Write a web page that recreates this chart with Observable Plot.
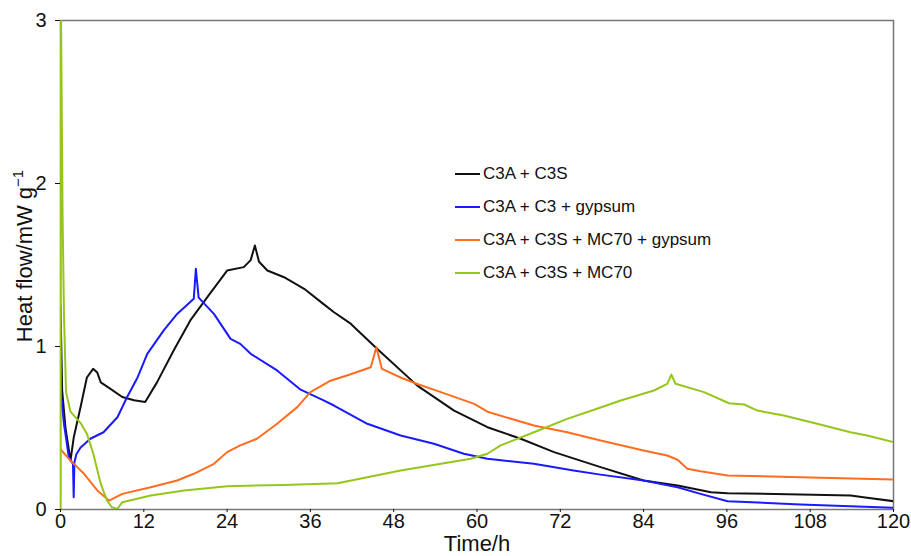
<!DOCTYPE html>
<html>
<head>
<meta charset="utf-8">
<script src="https://cdn.jsdelivr.net/npm/d3@7"></script>
<script src="https://cdn.jsdelivr.net/npm/@observablehq/plot@0.6"></script>
<style>
  html, body { margin: 0; padding: 0; background: #fff; }
  #wrap { position: relative; width: 911px; height: 556px; font-family: "Liberation Sans", Arial, sans-serif; }
  #legend { position: absolute; left: 455px; top: 158px; font-size: 17px; color: #111; }
  .row { display: flex; align-items: center; height: 32.8px; }
  .swatch { width: 25px; height: 0; border-top: 2.4px solid; margin-right: 3px; }
</style>
</head>
<body>
<div id="wrap"></div>
<script>
// ---- data ----
const seriesNames = ["C3A + C3S", "C3A + C3 + gypsum", "C3A + C3S + MC70 + gypsum", "C3A + C3S + MC70"];
const seriesColors = ["#111111", "#1a1aff", "#ff6e1f", "#96c61c"];
const xTicks = [0, 12, 24, 36, 48, 60, 72, 84, 96, 108, 120];
const yTicks = [0, 1, 2, 3];

const timeA = [0, 0.24, 0.72, 1.44, 1.9, 2.9, 3.8, 4.7, 5.3, 5.8, 7.2, 8.9, 10.6, 12.2, 13.9, 16.3, 18.7, 21.1, 24.0, 26.4, 27.4, 28.0, 28.6, 29.8, 32.2, 35.1, 37.9, 39.4, 41.8, 45.6, 51.4, 56.7, 61.5, 66.3, 71.1, 77.8, 84.0, 88.9, 93.7, 96.1, 106.6, 113.8, 116.2, 120];
const flowA = [1.25, 0.73, 0.5, 0.3, 0.44, 0.63, 0.81, 0.863, 0.84, 0.78, 0.74, 0.69, 0.67, 0.66, 0.78, 0.975, 1.16, 1.30, 1.466, 1.487, 1.53, 1.62, 1.52, 1.466, 1.425, 1.354, 1.26, 1.21, 1.14, 0.986, 0.76, 0.607, 0.505, 0.434, 0.352, 0.26, 0.178, 0.147, 0.106, 0.1, 0.092, 0.086, 0.072, 0.051];

const timeB = [0, 0.1, 0.5, 1.2, 1.8, 1.9, 2.0, 2.3, 2.9, 4.3, 6.2, 8.2, 9.6, 11.1, 12.5, 14.9, 16.8, 19.2, 19.5, 19.9, 22.1, 24.5, 25.9, 27.4, 31.2, 34.6, 37.9, 39.4, 44.2, 49.0, 53.8, 58.1, 61.5, 68.2, 73.9, 77.8, 84.0, 88.9, 92.2, 96.1, 106.6, 120];
const flowB = [1.0, 0.69, 0.526, 0.32, 0.28, 0.075, 0.29, 0.34, 0.38, 0.434, 0.474, 0.566, 0.69, 0.81, 0.955, 1.10, 1.20, 1.293, 1.477, 1.30, 1.20, 1.047, 1.016, 0.955, 0.853, 0.735, 0.67, 0.638, 0.526, 0.454, 0.403, 0.342, 0.311, 0.28, 0.239, 0.214, 0.178, 0.137, 0.096, 0.051, 0.031, 0.01];

const timeC = [0, 1.44, 3.4, 5.3, 7.0, 8.9, 13.0, 16.8, 19.2, 22.1, 24.0, 25.9, 28.3, 31.2, 34.1, 36.0, 38.9, 41.8, 44.7, 45.5, 46.3, 49.0, 51.4, 54.8, 59.6, 61.5, 68.2, 73.0, 77.8, 84.0, 87.4, 88.9, 90.3, 92.2, 96.1, 106.6, 120];
const flowC = [0.37, 0.30, 0.219, 0.117, 0.055, 0.096, 0.137, 0.178, 0.219, 0.28, 0.352, 0.393, 0.434, 0.526, 0.628, 0.72, 0.79, 0.83, 0.873, 0.995, 0.863, 0.81, 0.77, 0.72, 0.648, 0.6, 0.515, 0.474, 0.423, 0.362, 0.331, 0.305, 0.25, 0.235, 0.209, 0.198, 0.184];

const timeD = [0, 0.08, 0.3, 0.5, 0.8, 1.44, 2.9, 3.8, 4.3, 4.8, 5.8, 6.7, 7.4, 8.2, 8.9, 13.0, 17.8, 24.0, 32.2, 39.9, 44.2, 49.0, 54.8, 59.1, 61.5, 63.4, 68.2, 73.0, 77.8, 80.7, 85.5, 87.4, 88.0, 88.6, 92.7, 96.3, 98.5, 100.4, 104.2, 109.0, 113.8, 116.2, 120];
const flowD = [0, 3, 1.8, 1.2, 0.72, 0.6, 0.53, 0.464, 0.40, 0.33, 0.157, 0.055, 0.014, 0.004, 0.045, 0.086, 0.117, 0.143, 0.151, 0.161, 0.198, 0.239, 0.28, 0.311, 0.342, 0.393, 0.474, 0.556, 0.626, 0.669, 0.73, 0.771, 0.828, 0.771, 0.72, 0.652, 0.644, 0.607, 0.577, 0.526, 0.474, 0.454, 0.413];

const allTimes = [timeA, timeB, timeC, timeD];
const allFlows = [flowA, flowB, flowC, flowD];

// ---- build table ----
const rows = [];
allTimes.forEach((ts, i) => ts.forEach((t, j) => rows.push({series: seriesNames[i], t, v: allFlows[i][j]})));

const font = '"Liberation Sans", Arial, sans-serif';
const chart = Plot.plot({
  width: 911,
  height: 556,
  marginLeft: 60,
  marginRight: 18,
  marginTop: 20,
  marginBottom: 47,
  style: {fontFamily: font, fontSize: "19px", color: "#111", background: "#fff"},
  x: {domain: [0, 120]},
  y: {domain: [0, 3]},
  color: {domain: seriesNames, range: seriesColors},
  marks: [
    Plot.frame({stroke: "#777", strokeWidth: 1.5}),
    Plot.axisX({ticks: xTicks, tickFormat: d3.format("d"), tickSize: 3, tickPadding: 1, label: null, fontSize: 20}),
    Plot.axisY({ticks: yTicks, tickFormat: d3.format("d"), tickSize: 5, tickPadding: 9, label: null, fontSize: 20}),
    Plot.line(rows, {x: "t", y: "v", z: "series", stroke: "series", strokeWidth: 2, clip: true}),
    Plot.text(["Time/h"], {frameAnchor: "bottom", lineAnchor: "middle", dy: 34, fontSize: 22, fill: "#111"}),
    Plot.text(["Heat flow/mW g-1"], {frameAnchor: "left", textAnchor: "middle", lineAnchor: "middle", rotate: -90, dx: -36, dy: -9, fontSize: 22, fill: "#111"})
  ]
});

// superscript on the y label
d3.select(chart).selectAll("text").filter(function() { return this.textContent === "Heat flow/mW g-1"; })
  .each(function() {
    const s = d3.select(this);
    s.text("Heat flow/mW g");
    s.append("tspan").attr("font-size", 15).attr("dy", "-0.55em").text("\u22121");
  });

const wrap = document.getElementById("wrap");
wrap.appendChild(chart);

// legend
const legend = document.createElement("div");
legend.id = "legend";
seriesNames.forEach((name, i) => {
  const row = document.createElement("div");
  row.className = "row";
  const sw = document.createElement("span");
  sw.className = "swatch";
  sw.style.borderTopColor = seriesColors[i];
  const lab = document.createElement("span");
  lab.textContent = name;
  row.appendChild(sw);
  row.appendChild(lab);
  legend.appendChild(row);
});
wrap.appendChild(legend);
</script>
</body>
</html>
